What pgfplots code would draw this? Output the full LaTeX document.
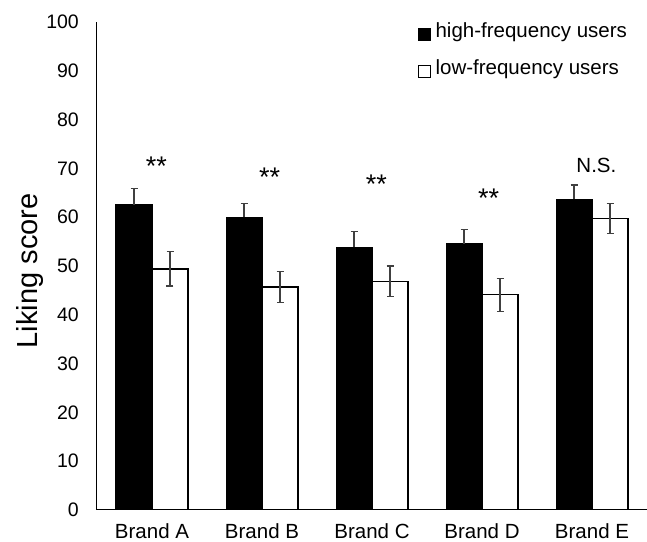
\documentclass[border=0pt]{standalone}
\usepackage{fontspec}
\setmainfont{Liberation Sans}
\usepackage{pgfplots}
\pgfplotsset{compat=1.18}
\definecolor{errgray}{RGB}{64,64,64}

\pgfplotsset{
  sqlegend/.style={legend image code/.code={
    \draw[##1, draw=black, line width=0.9pt] (0pt,-3pt) rectangle (12pt,9pt);
    \path[draw=none, fill=none] (0pt,0pt) -- (17pt,0pt);}},
}

\begin{document}
\begin{tikzpicture}
\begin{axis}[
  name=ax,
  scale only axis,
  width=550pt, height=488pt,
  ybar=0pt, bar width=36pt,
  xmin=-0.5, xmax=4.5,
  ymin=0, ymax=100,
  xtick=data,
  xticklabels={Brand A,Brand B,Brand C,Brand D,Brand E},
  ytick={0,10,...,100},
  axis lines*=left,
  axis line style={line width=1pt, black},
  major tick length=0pt,
  /pgf/number format/assume math mode=true,
  yticklabel style={inner sep=0pt, xshift=-18pt, font=\fontsize{19.5}{21}\selectfont},
  xticklabel style={inner sep=0pt, yshift=-13pt, font=\fontsize{20.5}{22}\selectfont},
  ylabel={Liking score},
  every axis y label/.style={at={(axis description cs:-0.122,0.49)}, rotate=90,
    anchor=center, font=\fontsize{29}{31}\selectfont},
  legend style={draw=none, fill=none, at={(axis description cs:0.964,1)},
    anchor=north east, yshift=-1pt, inner sep=0pt, row sep=19pt, column sep=0pt,
    nodes={inner sep=0pt, text height=14pt, text depth=4pt, anchor=base west,
      font=\fontsize{20.5}{22}\selectfont}},
  legend cell align=left,
]
\addplot[fill=black, draw=black, line width=1pt, sqlegend,
  error bars/.cd, y dir=plus, y explicit,
  error bar style={errgray, line width=1.2pt},
  error mark options={errgray, rotate=90, mark size=3.5pt, line width=1.2pt}]
  coordinates {
  (0,62.5) +- (0,3.3)
  (1,60.0) +- (0,2.8)
  (2,53.8) +- (0,3.2)
  (3,54.6) +- (0,2.9)
  (4,63.7) +- (0,2.9)
};
\addlegendentry{high-frequency users}
\addplot[fill=white, draw=black, line width=1.2pt, sqlegend,
  error bars/.cd, y dir=both, y explicit,
  error bar style={errgray, line width=1.2pt},
  error mark options={errgray, rotate=90, mark size=3.5pt, line width=1.2pt}]
  coordinates {
  (0,49.4) +- (0,3.5)
  (1,45.7) +- (0,3.1)
  (2,46.9) +- (0,3.1)
  (3,44.1) +- (0,3.4)
  (4,59.7) +- (0,3.1)
};
\addlegendentry{low-frequency users}
\node[anchor=base, font=\fontsize{27}{29}\selectfont] at (axis cs:0.04,68.6) {**};
\node[anchor=base, font=\fontsize{27}{29}\selectfont] at (axis cs:1.07,66.2) {**};
\node[anchor=base, font=\fontsize{27}{29}\selectfont] at (axis cs:2.04,64.8) {**};
\node[anchor=base, font=\fontsize{27}{29}\selectfont] at (axis cs:3.06,61.9) {**};
\node[anchor=base, font=\fontsize{20.5}{22}\selectfont] at (axis cs:4.04,69.2) {N.S.};
\end{axis}
\pgfresetboundingbox
\path[use as bounding box] ([shift={(-97pt,-32pt)}]ax.south west) rectangle ([shift={(0pt,22pt)}]ax.north east);
\end{tikzpicture}
\end{document}
